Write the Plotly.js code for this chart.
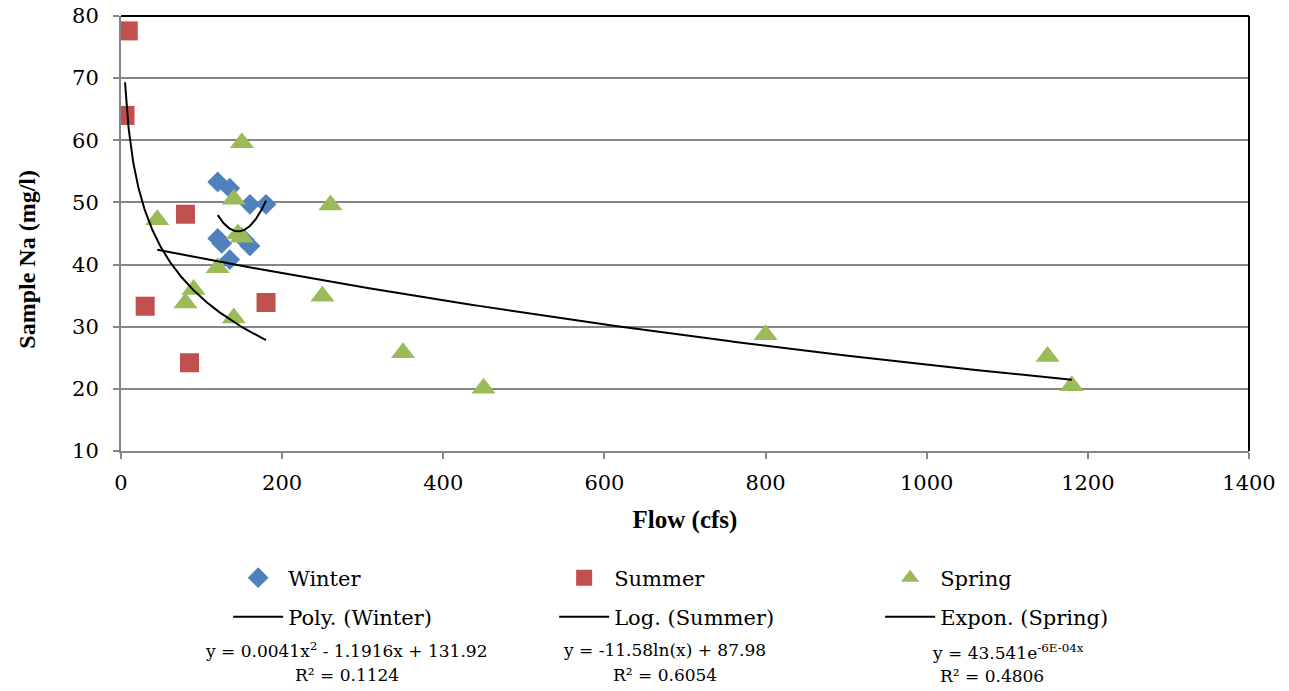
<!DOCTYPE html>
<html>
<head>
<meta charset="utf-8">
<script src="https://cdn.plot.ly/plotly-3.0.1.min.js"></script>
<style>html,body{margin:0;padding:0;background:#fff;}#chart{width:1289px;height:691px;}</style>
</head>
<body>
<div id="chart"></div>
<script>
// ---- data ----
var winterFlow = [120, 135, 160, 180, 120, 125, 153, 160, 135];
var winterNa   = [53.3, 52.3, 49.7, 49.7, 44.2, 43.4, 44.0, 43.0, 40.8];

var summerFlow = [5, 9, 80, 30, 180, 85];
var summerNa   = [64.0, 77.6, 48.1, 33.3, 33.9, 24.2];

var springFlow = [150, 45, 140, 260, 145, 150, 120, 90, 80, 140, 250, 350, 450, 800, 1150, 1180];
var springNa   = [59.6, 47.2, 50.5, 49.6, 44.9, 44.4, 39.5, 36.0, 33.8, 31.4, 34.9, 25.8, 20.1, 28.7, 25.2, 20.5];

// trendline coefficients as printed on the chart
var polyWinter = [0.0041, -1.1916, 131.92];   // a x^2 + b x + c
var logSummer  = [-11.58, 87.98];             // a ln(x) + b
var expSpring  = [43.541, -6e-4];             // a e^(b x)

var seriesNames = ['Winter', 'Summer', 'Spring'];
var trendNames  = ['Poly. (Winter)', 'Log. (Summer)', 'Expon. (Spring)'];
var eqTexts = [
  'y = 0.0041x<sup>2</sup> - 1.1916x + 131.92',
  'y = -11.58ln(x) + 87.98',
  'y = 43.541e<sup>-6E-04x</sup>'
];
var r2Texts = ['R² = 0.1124', 'R² = 0.6054', 'R² = 0.4806'];

var xTicks = [0, 200, 400, 600, 800, 1000, 1200, 1400];
var yTicks = [10, 20, 30, 40, 50, 60, 70, 80];

// ---- trendline sampling over each series' flow range ----
function sample(xs, f, n) {
  var lo = Math.min.apply(null, xs), hi = Math.max.apply(null, xs);
  var X = [], Y = [];
  for (var i = 0; i <= n; i++) { var x = lo + (hi - lo) * i / n; X.push(x); Y.push(f(x)); }
  return {x: X, y: Y};
}
var tW = sample(winterFlow, function (x) { return polyWinter[0]*x*x + polyWinter[1]*x + polyWinter[2]; }, 100);
var tS = sample(summerFlow, function (x) { return logSummer[0]*Math.log(x) + logSummer[1]; }, 300);
var tP = sample(springFlow, function (x) { return expSpring[0]*Math.exp(expSpring[1]*x); }, 200);

var FONT = 'DejaVu Serif';
var BFONT = 'Liberation Serif';

var traces = [
  {x: winterFlow, y: winterNa, name: seriesNames[0], type: 'scatter', mode: 'markers',
   marker: {symbol: 'diamond', size: 16, color: '#4F81BD'}, legend: 'legend'},
  {x: summerFlow, y: summerNa, name: seriesNames[1], type: 'scatter', mode: 'markers',
   marker: {symbol: 'square', size: 19, color: '#C0504D'}, legend: 'legend'},
  {x: springFlow, y: springNa, name: seriesNames[2], type: 'scatter', mode: 'markers',
   marker: {symbol: 'triangle-up', size: 21, color: '#9BBB59'}, legend: 'legend'},
  {x: tW.x, y: tW.y, name: trendNames[0], type: 'scatter', mode: 'lines',
   line: {color: '#000', width: 2}, legend: 'legend2'},
  {x: tS.x, y: tS.y, name: trendNames[1], type: 'scatter', mode: 'lines',
   line: {color: '#000', width: 2}, legend: 'legend2'},
  {x: tP.x, y: tP.y, name: trendNames[2], type: 'scatter', mode: 'lines',
   line: {color: '#000', width: 2}, legend: 'legend2'}
];

var legendCommon = {
  orientation: 'h', xanchor: 'left', yanchor: 'middle',
  font: {family: FONT, size: 21, color: '#000'},
  itemwidth: 50, entrywidth: 261, bgcolor: 'rgba(0,0,0,0)', borderwidth: 0
};

var ann = [];
var eqX = [0.1995, 0.482, 0.786];
var r2X = [0.2, 0.482, 0.772];
for (var i = 0; i < 3; i++) {
  ann.push({xref: 'paper', yref: 'paper', x: eqX[i], y: i === 2 ? -0.462 : -0.458, text: eqTexts[i],
            showarrow: false, xanchor: 'center', yanchor: 'middle', font: {family: FONT, size: 17, color: '#000'}});
  ann.push({xref: 'paper', yref: 'paper', x: r2X[i], y: i === 2 ? -0.518 : -0.5155, text: r2Texts[i],
            showarrow: false, xanchor: 'center', yanchor: 'middle', font: {family: FONT, size: 17, color: '#000'}});
}
ann.push({xref: 'paper', yref: 'paper', x: -0.0833, y: 0.44, text: '<b>Sample Na (mg/l)</b>', textangle: -90,
          showarrow: false, xanchor: 'center', yanchor: 'middle', font: {family: BFONT, size: 24, color: '#000'}});

var layout = {
  width: 1289, height: 691,
  margin: {l: 121, r: 40, t: 16, b: 240},
  paper_bgcolor: '#fff', plot_bgcolor: '#fff',
  font: {family: FONT, color: '#000'},
  xaxis: {
    range: [0, 1400], tickvals: xTicks, ticktext: xTicks.map(String),
    showgrid: false, zeroline: false,
    showline: true, linecolor: '#868686', linewidth: 2,
    ticks: 'outside', ticklen: 6, tickcolor: '#868686', tickwidth: 2,
    tickfont: {family: FONT, size: 21, color: '#000'}, ticklabelstandoff: 6,
    title: {text: '<b>Flow (cfs)</b>', font: {family: BFONT, size: 25, color: '#000'}, standoff: 16}
  },
  yaxis: {
    range: [10, 80], tickvals: yTicks, ticktext: yTicks.map(String),
    showgrid: true, gridcolor: '#868686', gridwidth: 2, zeroline: false,
    showline: true, linecolor: '#868686', linewidth: 2,
    ticks: 'outside', ticklen: 6, tickcolor: '#868686', tickwidth: 2,
    tickfont: {family: FONT, size: 21, color: '#000'}, ticklabelstandoff: 10
  },
  shapes: [
    {type: 'line', xref: 'paper', yref: 'paper', x0: 0, x1: 1, y0: 1, y1: 1, line: {color: '#000', width: 2}},
    {type: 'line', xref: 'paper', yref: 'paper', x0: 1, x1: 1, y0: 0, y1: 1, line: {color: '#000', width: 2}}
  ],
  showlegend: true,
  legend: Object.assign({x: 0.095, y: -0.292}, legendCommon),
  legend2: Object.assign({x: 0.095, y: -0.382}, legendCommon),
  annotations: ann
};

Plotly.newPlot('chart', traces, layout, {displayModeBar: false, staticPlot: true});
</script>
</body>
</html>
